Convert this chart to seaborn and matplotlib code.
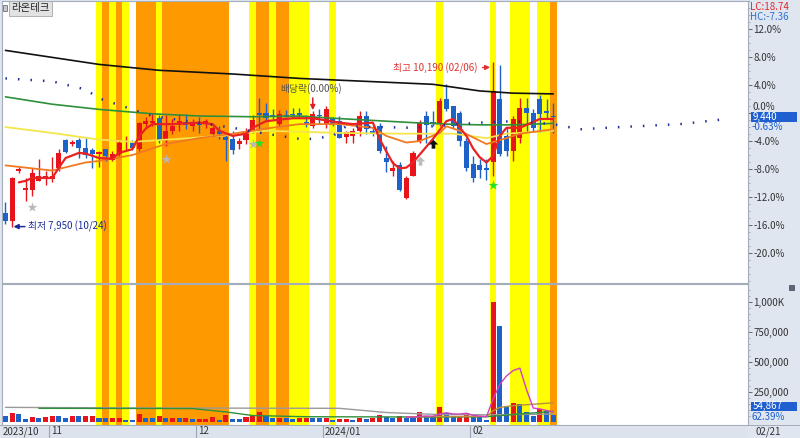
import numpy as np
import pandas as pd
import seaborn as sns
import matplotlib.pyplot as plt
from matplotlib.patches import Rectangle

# 라온테크 daily candles, 2023/10/23 ~ 2024/02/21 (83 trading days)
opens = [8140, 8030, 8720, 8450, 8450, 8580, 8600, 8610, 8750, 9140,
         9080, 9140, 9030, 9000, 8950, 9010, 8870, 8950, 9110, 9100,
         9010, 9350, 9360, 9430, 9120, 9260, 9350, 9380, 9320, 9370,
         9350, 9220, 9260, 9180, 9150, 9080, 9140, 9260, 9500, 9500,
         9470, 9350, 9470, 9490, 9500, 9380, 9320, 9480, 9350, 9420,
         9390, 9180, 9190, 9260, 9460, 9260, 9330, 8890, 8720, 8790,
         8350, 8650, 9120, 9460, 9380, 9370, 9690, 9590, 9500, 9120,
         8810, 8800, 8760, 8830, 9690, 9190, 8990, 9160, 9570, 9500,
         9690, 9530, 9460]
highs = [8290, 8630, 8770, 8620, 8760, 8880, 8720, 8900, 9010, 9150,
         9140, 9160, 9160, 9020, 8990, 9010, 8990, 9130, 9190, 9130,
         9380, 9440, 9500, 9480, 9480, 9420, 9490, 9490, 9420, 9450,
         9420, 9330, 9330, 9220, 9250, 9160, 9300, 9480, 9700, 9630,
         9560, 9540, 9540, 9570, 9570, 9470, 9530, 9560, 9600, 9450,
         9460, 9260, 9300, 9530, 9530, 9330, 9370, 9050, 8850, 8830,
         8640, 8990, 9400, 9530, 9530, 9700, 9890, 9600, 9530, 9160,
         8920, 8880, 8880, 10190, 10150, 9300, 9460, 9700, 9700, 9560,
         9750, 9690, 9630]
lows = [8000, 7950, 8690, 8310, 8380, 8580, 8520, 8560, 8720, 8960,
        9050, 8890, 8890, 8760, 8770, 8850, 8850, 8920, 9000, 9000,
        8980, 9300, 9330, 9100, 9060, 9220, 9260, 9280, 9260, 9230,
        9300, 9170, 9150, 8850, 8950, 9010, 9080, 9230, 9260, 9390,
        9420, 9320, 9440, 9440, 9450, 9310, 9300, 9350, 9300, 9320,
        9160, 9100, 9100, 9190, 9220, 9190, 8960, 8700, 8650, 8440,
        8330, 8640, 9100, 9100, 9330, 9320, 9530, 9300, 9060, 8720,
        8560, 8620, 8590, 8650, 8920, 8920, 8850, 9100, 9240, 9240,
        9240, 9420, 9230]
closes = [8030, 8620, 8740, 8490, 8690, 8650, 8650, 8650, 8960, 8970,
          9110, 9020, 8930, 8950, 8970, 8920, 8950, 9100, 9120, 9030,
          9370, 9390, 9390, 9120, 9260, 9320, 9390, 9340, 9350, 9340,
          9390, 9300, 9220, 9140, 9000, 9120, 9260, 9410, 9470, 9430,
          9450, 9490, 9450, 9470, 9480, 9350, 9490, 9460, 9550, 9350,
          9160, 9240, 9260, 9460, 9280, 9220, 8990, 8840, 8750, 8450,
          8620, 8960, 9370, 9340, 9350, 9660, 9550, 9330, 9120, 8760,
          8620, 8730, 8730, 9800, 8950, 8990, 9420, 9570, 9500, 9300,
          9490, 9500, 9440]
volumes = [42000, 72000, 64000, 17000, 36000, 27000, 36000, 50000, 42000, 31000,
           47000, 42000, 44000, 45000, 31000, 28000, 29000, 33000, 14000, 13000,
           64000, 31000, 28000, 47000, 28000, 31000, 30000, 32000, 22000, 23000,
           24000, 36000, 14000, 58000, 25000, 22000, 36000, 47000, 81000, 47000,
           31000, 32000, 28000, 22000, 28000, 29000, 27000, 26000, 29000, 15000,
           17000, 18000, 16000, 28000, 22000, 28000, 56000, 39000, 28000, 50000,
           28000, 27000, 83000, 44000, 36000, 125000, 75000, 36000, 38000, 69000,
           44000, 36000, 14000, 1000000, 794000, 128000, 158000, 142000, 83000, 50000,
           108000, 87942, 54867]

month_labels = ["2023/10", "11", "12", "2024/01", "02"]
month_starts = [0, 7, 29, 48, 70]
last_date = "02/21"

# highlighted days (signal bands)
yellow_days = [14, 16, 18, 23, 37, 40, 43, 44, 45, 49, 65, 73, 76, 77, 78, 80, 81]
orange_days = [15, 17, 20, 21, 22, 24, 25, 26, 27, 28, 29, 30, 31, 32, 33, 38, 39, 41, 42, 82]

# moving averages (day index, price)
ma5_x = [2, 3, 4, 7, 8, 9, 11, 12, 14, 16, 17, 19, 20, 21, 22, 25, 29, 31, 32, 34,
         36, 37, 39, 43, 46, 50, 52, 55, 56, 57, 58, 59, 60, 61, 64, 66, 67, 69, 70, 71,
         72, 73, 74, 75, 77, 80, 82]
ma5 = [8560, 8580, 8620, 8620, 8760, 8890, 8960, 8950, 8890, 8880, 8960, 9010, 9180, 9290, 9350, 9350, 9370, 9350, 9260, 9190,
       9220, 9300, 9390, 9430, 9430, 9370, 9350, 9370, 9150, 8980, 8820, 8750, 8760, 8830, 9150, 9390, 9420, 9190, 9020, 8900,
       8830, 8920, 9190, 9300, 9300, 9420, 9420]
ma20_x = [0, 3, 7, 12, 14, 19, 24, 29, 34, 39, 44, 50, 55, 57, 60, 62, 65, 66, 68, 72, 75, 77, 82]
ma20 = [8790, 8760, 8720, 8830, 8850, 8930, 9080, 9160, 9220, 9290, 9350, 9350, 9300, 9190, 9100, 9120, 9230, 9320, 9260, 9080, 9160, 9220, 9280]
ma40_x = [0, 7, 14, 19, 26, 32, 39, 50, 60, 67, 72, 75, 82]
ma40 = [9310, 9230, 9140, 9110, 9150, 9190, 9260, 9230, 9220, 9220, 9160, 9220, 9260]
ma60_x = [0, 7, 14, 22, 29, 37, 44, 49, 55, 61, 66, 71, 76, 82]
ma60 = [9720, 9620, 9550, 9490, 9460, 9450, 9460, 9430, 9400, 9370, 9350, 9340, 9340, 9360]
ma120_x = [0, 14, 23, 34, 44, 64, 71, 76, 82]
ma120 = [10350, 10160, 10080, 10030, 9970, 9890, 9800, 9770, 9760]
span_x = [0, 7, 12, 14, 19, 22, 34, 39, 44, 46, 49, 51, 56, 61, 71, 76, 82, 86, 92, 101, 104, 107]
span = [9970, 9930, 9820, 9700, 9550, 9460, 9300, 9220, 9150, 9150, 9190, 9320, 9310, 9300, 9370, 9390, 9350, 9280, 9310, 9350, 9380, 9410]

# volume averages
vma5_x = [60, 61, 62, 63, 64, 65, 66, 67, 68, 69, 70, 71, 72, 73, 74, 75, 76, 77, 78, 79, 80, 81, 82]
vma5 = [40000, 34000, 43000, 46000, 44000, 63000, 73000, 63000, 62000, 69000, 52000, 45000, 40000,
        190000, 310000, 380000, 425000, 445000, 265000, 112000, 105000, 92000, 80000]
vma20_x = [60, 72, 73, 74, 76, 78, 80, 82]
vma20 = [40000, 42000, 90000, 118000, 132000, 140000, 148000, 156000]
vma60_x = [5, 28, 33, 37, 45, 60, 72, 82]
vma60 = [110000, 108000, 80000, 50000, 40000, 38000, 40000, 85000]
vma120_x = [0, 20, 50, 57, 65, 72, 82]
vma120 = [118000, 113000, 110000, 75000, 58000, 56000, 62000]

# signal markers
gray_star_x, gray_star_y = [4, 24, 37], [8220, 8880, 9080]
green_star_x, green_star_y = [38, 73], [9100, 8520]
gray_arrow_x, gray_arrow_y = [62], [8850]
black_arrow_x, black_arrow_y = [64], [9080]

ref_price = closes[-2]
pct_ticks = [12, 8, 4, 0, -4, -8, -12, -16, -20]

RED, BLUE = '#e8141c', '#1d62c8'
YELLOW, ORANGE = '#ffff00', '#ff9900'
PANEL = '#dfe6f0'
EDGE = '#a4aebb'

sns.set_style("white")
plt.rcParams['font.family'] = ['Noto Sans CJK KR', 'DejaVu Sans']
plt.rcParams['axes.unicode_minus'] = False

fig = plt.figure(figsize=(8, 4.38), dpi=100, facecolor=PANEL)


def fx(px):
    return px / 800


def fy(py):
    return 1 - py / 438


def ftext(px, py, s, **kw):
    return fig.text(fx(px), fy(py), s, va='center', **kw)


ax = fig.add_axes([fx(2), fy(283), fx(746), 282 / 438])
axv = fig.add_axes([fx(2), fy(425), fx(746), 141 / 438])
axd = fig.add_axes([fx(2), 0, fx(746), fy(425)])
xlim = (-0.52, 111.15)

n = len(closes)
idx = np.arange(n)

# background bands
for a in (ax, axv):
    for d in yellow_days:
        a.axvspan(d - 0.5, d + 0.5, color=YELLOW, lw=0, zorder=0)
    for d in orange_days:
        a.axvspan(d - 0.5, d + 0.5, color=ORANGE, lw=0, zorder=0)

# candles
o, c = np.array(opens), np.array(closes)
ccol = np.where(c >= o, RED, BLUE)
ax.vlines(idx, lows, highs, colors=ccol, lw=1, zorder=3)
ax.bar(idx, np.maximum(np.abs(c - o), 14), bottom=np.minimum(o, c), width=0.76,
       color=ccol, lw=0, zorder=3)

# moving averages
sns.lineplot(x=ma120_x, y=ma120, ax=ax, color='#111111', lw=1.2, zorder=4)
sns.lineplot(x=ma60_x, y=ma60, ax=ax, color='#2f8f3c', lw=1.2, zorder=4)
sns.lineplot(x=ma40_x, y=ma40, ax=ax, color='#f3e64a', lw=1.3, zorder=4)
sns.lineplot(x=ma20_x, y=ma20, ax=ax, color='#f07a22', lw=1.3, zorder=4)
sns.lineplot(x=ma5_x, y=ma5, ax=ax, color='#e82222', lw=1.6, zorder=4)
sns.lineplot(x=span_x, y=span, ax=ax, color='#1c2c9c', lw=1.8,
             linestyle=(0, (0.6, 4.4)), zorder=4)

# signal markers
arrow = [(-1, 0), (0, 1), (1, 0), (0.4, 0), (0.4, -0.9), (-0.4, -0.9), (-0.4, 0)]
sns.scatterplot(x=gray_star_x, y=gray_star_y, ax=ax, marker='*', s=55, color='#b8b8b8', linewidth=0, zorder=5)
sns.scatterplot(x=green_star_x, y=green_star_y, ax=ax, marker='*', s=55, color='#22e022', linewidth=0, zorder=5)
sns.scatterplot(x=gray_arrow_x, y=gray_arrow_y, ax=ax, marker=arrow, s=45, color='#bdbdbd', linewidth=0, zorder=5)
sns.scatterplot(x=black_arrow_x, y=black_arrow_y, ax=ax, marker=arrow, s=45, color='#111111', linewidth=0, zorder=5)

# annotations
lo_i = int(np.argmin(lows))
hi_i = int(np.argmax(highs))
ax.annotate(f"최저 {lows[lo_i]:,} (10/24)", xy=(lo_i + 0.2, lows[lo_i] + 10),
            xytext=(lo_i + 2.4, lows[lo_i] + 10), ha='left', va='center',
            fontsize=7, color='#1a2a9a',
            arrowprops=dict(arrowstyle='-|>', color='#1a2a9a', lw=1.1,
                            shrinkA=0, shrinkB=0, mutation_scale=7))
ax.annotate(f"최고 {highs[hi_i]:,} (02/06)", xy=(hi_i - 0.45, highs[hi_i] - 70),
            xytext=(hi_i - 2.3, highs[hi_i] - 90), ha='right', va='center',
            fontsize=7, color='#e03030',
            arrowprops=dict(arrowstyle='-|>', color='#e03030', lw=1.0,
                            shrinkA=1, shrinkB=0, mutation_scale=7))
ax.text(41.1, 9830, "배당락(0.00%)", fontsize=7, color='#505050', va='center', ha='left')
ax.annotate("", xy=(46, 9540), xytext=(46, 9705),
            arrowprops=dict(arrowstyle='-|>', color='#e02020', lw=1.1,
                            shrinkA=0, shrinkB=0, mutation_scale=7))

ax.set_xlim(*xlim)
ax.set_ylim(7195, 10996)
ax.set_xticks([])
ax.set_ylabel('')
ax.yaxis.tick_right()
ax.set_yticks([ref_price * (1 + p / 100) for p in pct_ticks])
# the 0.0% label sits just above the current-price box, as in the HTS readout
ax.set_yticklabels(["" if p == 0 else f"{p:.1f}%" for p in pct_ticks])
ax.set_yticks([ref_price * (1 + p / 100) for p in range(-24, 17)], minor=True)
ax.tick_params(axis='y', which='major', direction='out', length=3, width=0.6,
               pad=1, labelsize=7, colors='#555555', labelcolor='#333333')
ax.tick_params(axis='y', which='minor', direction='out', length=1.5, width=0.5, colors='#8a96a6')

# volume
vol = np.array(volumes)
df_v = pd.DataFrame({'day': idx, 'volume': vol,
                     'dir': np.where(np.r_[False, vol[1:] >= vol[:-1]], 'up', 'down')})
sns.barplot(data=df_v, x='day', y='volume', hue='dir', palette={'up': RED, 'down': BLUE},
            dodge=False, width=0.76, saturation=1, errorbar=None, legend=False,
            linewidth=0, ax=axv, zorder=2)
sns.lineplot(x=vma120_x, y=vma120, ax=axv, color='#9a9a9a', lw=1.0, zorder=3)
sns.lineplot(x=vma60_x, y=vma60, ax=axv, color='#2f8f3c', lw=1.0, zorder=3)
sns.lineplot(x=vma20_x, y=vma20, ax=axv, color='#b8903c', lw=1.0, zorder=3)
sns.lineplot(x=vma5_x, y=vma5, ax=axv, color='#d040c0', lw=1.0, zorder=3)
axv.set_xlim(*xlim)
axv.set_ylim(-29000, 1146000)
axv.set_xticks([])
axv.set_xlabel('')
axv.set_ylabel('')
axv.yaxis.tick_right()
axv.set_yticks([250000, 500000, 750000, 1000000])
axv.set_yticklabels(["250,000", "500,000", "750,000", "1,000K"])
axv.set_yticks(np.arange(50000, 1150000, 50000), minor=True)
axv.tick_params(axis='y', which='major', direction='out', length=3, width=0.6,
                pad=1, labelsize=7, colors='#555555', labelcolor='#333333')
axv.tick_params(axis='y', which='minor', direction='out', length=1.5, width=0.5, colors='#8a96a6')

for a in (ax, axv):
    for sp in a.spines.values():
        sp.set_color(EDGE)
        sp.set_linewidth(0.8)

# date strip
axd.set_facecolor('#dce3ec')
axd.set_xlim(*xlim)
axd.set_ylim(0, 1)
axd.set_xticks([])
axd.set_yticks([])
for sp in axd.spines.values():
    sp.set_visible(False)
for lab, s in zip(month_labels, month_starts):
    if s > 0:
        axd.axvline(s - 0.5, color='#9aa5b5', lw=0.8)
        axd.text(s - 0.5 + 0.35, 0.5, lab, fontsize=7, color='#333333', va='center')
    else:
        axd.text(xlim[0] + 0.1, 0.5, lab, fontsize=7, color='#333333', va='center')
fig.add_artist(Rectangle((0, fy(425.5)), 1, 0.8 / 438, transform=fig.transFigure,
                         color=EDGE, lw=0))
ftext(755, 431.5, last_date, fontsize=7, color='#333333')

# title
fig.add_artist(Rectangle((fx(3), fy(11)), fx(4), 6 / 438, transform=fig.transFigure,
                         fc='#c8c8c8', ec='#707070', lw=0.6))
ftext(11, 8.5, "라온테크", fontsize=7.5, color='#222222',
      bbox=dict(boxstyle='square,pad=0.2', fc='#e2e2e2', ec='#a8a8a8', lw=0.6))

# right panel readouts
lc = (closes[-1] / min(lows) - 1) * 100
hc = (closes[-1] / max(highs) - 1) * 100
ftext(750, 7, f"LC:{lc:.2f}", fontsize=7, color='#e02a2a')
ftext(750, 16.5, f"HC:{hc:.2f}", fontsize=7, color='#2f6fd0')
ftext(752.5, 106.5, f"{0:.1f}%", fontsize=7, color='#333333')
fig.add_artist(Rectangle((fx(751), fy(121.5)), fx(46), 9.5 / 438, transform=fig.transFigure,
                         color='#1f5fcf', lw=0, zorder=5))
ftext(753, 116.8, f"{closes[-1]:,}", fontsize=7, color='white', zorder=6)
ftext(752, 127, f"{(closes[-1] / ref_price - 1) * 100:.2f}%", fontsize=7, color='#1f5fcf', zorder=6)
fig.add_artist(Rectangle((fx(751), fy(411)), fx(46), 9.5 / 438, transform=fig.transFigure,
                         color='#1f5fcf', lw=0, zorder=5))
ftext(753, 406.3, f"{volumes[-1]:,}", fontsize=7, color='white', zorder=6)
ftext(752, 417.5, f"{volumes[-1] / volumes[-2] * 100:.2f}%", fontsize=7, color='#1f5fcf', zorder=6)
fig.add_artist(Rectangle((fx(789), fy(291)), fx(6), 6 / 438, transform=fig.transFigure,
                         fc='#5a6474', lw=0, zorder=5))

fig.savefig('out.png', dpi=100, facecolor=PANEL)
